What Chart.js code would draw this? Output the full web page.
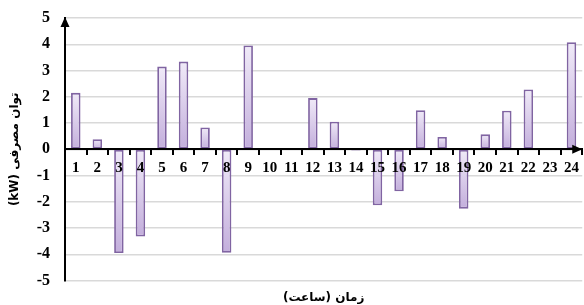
<!DOCTYPE html>
<html lang="fa">
<head>
<meta charset="utf-8">
<script src="https://cdn.jsdelivr.net/npm/chart.js@4.4.1/dist/chart.umd.min.js"></script>
<style>
  html, body { margin: 0; padding: 0; background: #fff; }
  #wrap { width: 584px; height: 305px; }
</style>
</head>
<body>
<div id="wrap"><canvas id="powerChart"></canvas></div>
<script>
// data
const hours = ['1', '2', '3', '4', '5', '6', '7', '8', '9', '10', '11', '12',
               '13', '14', '15', '16', '17', '18', '19', '20', '21', '22', '23', '24'];
const power = [2.15, 0.38, -3.95, -3.32, 3.15, 3.34, 0.83, -3.94, 3.95, 0, 0, 1.95,
               1.05, -0.05, -2.13, -1.6, 1.49, 0.47, -2.26, 0.57, 1.47, 2.28, 0, 4.08];
const yMin = -5;
const yMax = 5;
const yStep = 1;

const yTitle = '\u202Bتوان مصرفی (kW)\u202C';
const xTitle = '\u202Bزمان (ساعت)\u202C';

// per-bar vertical gradient, light at the top
function barFill(context) {
    const chart = context.chart;
    const { ctx, chartArea, scales } = chart;
    if (!chartArea || context.type !== 'data') return '#ddd0ee';
    const y0 = scales.y.getPixelForValue(0);
    const y1 = scales.y.getPixelForValue(context.raw);
    const top = Math.min(y0, y1);
    const bottom = Math.max(y0, y1);
    if (bottom - top < 1) return '#c3aedc';
    const g = ctx.createLinearGradient(0, top, 0, bottom);
    g.addColorStop(0, '#f0eaf8');
    g.addColorStop(1, '#c3aedc');
    return g;
}

// arrow heads on both axes
const axisArrows = {
    id: 'axisArrows',
    afterDraw(chart) {
        const { ctx, chartArea, scales } = chart;
        const x0 = chartArea.left;
        const y0 = scales.y.getPixelForValue(0);
        ctx.save();
        ctx.fillStyle = '#000';
        ctx.beginPath();
        ctx.moveTo(x0, chartArea.top - 1);
        ctx.lineTo(x0 - 4.5, chartArea.top + 9);
        ctx.lineTo(x0 + 4.5, chartArea.top + 9);
        ctx.closePath();
        ctx.fill();
        ctx.beginPath();
        ctx.moveTo(chartArea.right, y0);
        ctx.lineTo(chartArea.right - 10, y0 - 4.5);
        ctx.lineTo(chartArea.right - 10, y0 + 4.5);
        ctx.closePath();
        ctx.fill();
        ctx.restore();
    }
};

const ctx = document.getElementById('powerChart').getContext('2d');
const powerChart = new Chart(ctx, {
    type: 'bar',
    data: {
        labels: hours,
        datasets: [{
            data: power,
            backgroundColor: barFill,
            borderColor: '#8064a2',
            borderWidth: 1.8,
            borderSkipped: false,
            barPercentage: 0.44,
            categoryPercentage: 1
        }]
    },
    options: {
        responsive: true,
        maintainAspectRatio: false,
        animation: false,
        layout: {
            padding: { top: 18, right: 1, left: 0, bottom: 0 }
        },
        plugins: {
            legend: { display: false },
            tooltip: { enabled: false },
            title: {
                display: true,
                position: 'bottom',
                fullSize: false,
                text: xTitle,
                color: '#000',
                font: { family: 'DejaVu Sans', size: 12, weight: 'bold' },
                padding: { top: 10, bottom: 0 }
            }
        },
        scales: {
            x: {
                position: { y: 0 },
                afterFit(scale) { scale.paddingTop = 0; scale.paddingBottom = 0; },
                grid: {
                    drawOnChartArea: false,
                    drawTicks: true,
                    tickLength: 5,
                    color: '#000',
                    lineWidth: 2,
                    z: 1
                },
                border: { color: '#000', width: 2, z: 1 },
                ticks: {
                    color: '#000',
                    padding: 5,
                    z: 1,
                    maxRotation: 0,
                    autoSkip: false,
                    font: { family: 'Liberation Serif', size: 15, weight: 'bold' }
                }
            },
            y: {
                min: yMin,
                max: yMax,
                afterFit(scale) {
                    scale.width = 65;
                    scale.paddingTop = 0;
                    scale.paddingBottom = 0;
                },
                grid: {
                    color: '#d9d9d9',
                    lineWidth: 1.5,
                    drawTicks: false
                },
                border: { color: '#000', width: 2 },
                ticks: {
                    stepSize: yStep,
                    color: '#000',
                    padding: 15,
                    font: { family: 'Liberation Serif', size: 16, weight: 'bold' }
                },
                title: {
                    display: true,
                    text: yTitle,
                    color: '#000',
                    font: { family: 'DejaVu Sans', size: 12, weight: 'bold' },
                    padding: { top: 8, bottom: 0 }
                }
            }
        }
    },
    plugins: [axisArrows]
});
</script>
</body>
</html>
